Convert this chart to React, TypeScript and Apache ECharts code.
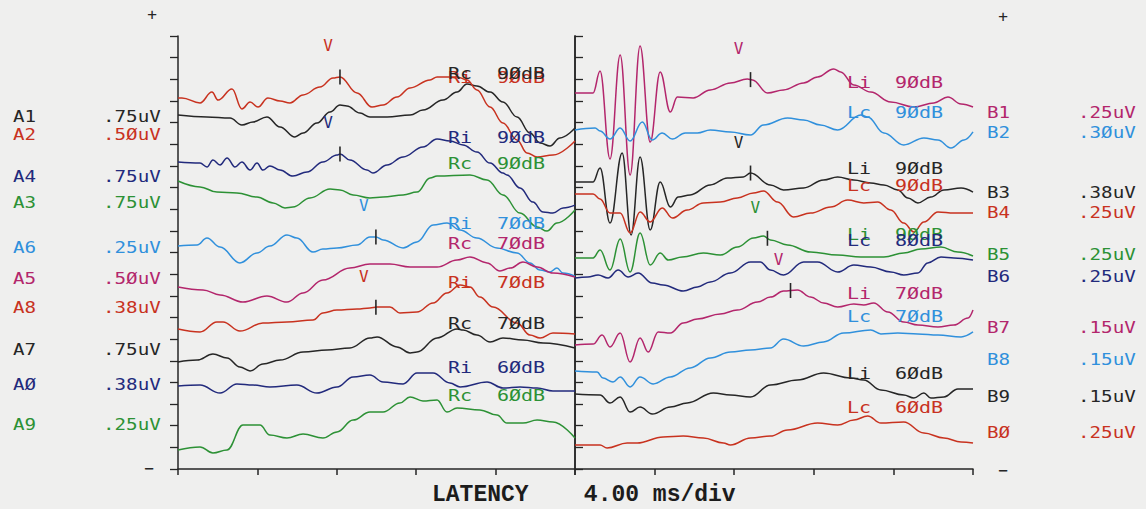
import React, { useEffect, useRef } from "react";
import * as echarts from "echarts";

// Each trace: [latency in ms (0–20 per panel), vertical position in display divisions (0–20)]
const A1 = [[0,16.35],[1.46,16.26],[2.62,16.21],[3.22,15.89],[3.78,16.03],[4.48,16.26],[5.14,15.80],[5.89,15.34],[6.30,15.52],[7.00,15.98],[7.66,16.49],[8.16,16.81],[8.51,16.77],[9.17,16.44],[9.67,16.26],[10.53,16.26],[11.69,16.35],[12.34,16.58],[13.35,17.04],[14.06,17.41],[14.56,17.78],[15.06,17.69],[15.72,17.41],[16.37,16.95],[17.08,16.26],[17.73,15.52],[18.24,15.06],[18.74,14.92],[19.24,15.29],[20,15.75]];
const A2 = [[0,17.14],[0.2,17.14],[1.11,16.91],[1.71,17.41],[2.02,17.04],[2.72,17.55],[3.22,16.63],[3.63,16.95],[4.03,16.72],[4.53,17.14],[5.14,17.00],[5.64,16.91],[6.30,17.28],[7.15,17.64],[7.81,18.06],[8.16,18.11],[9.02,17.37],[9.77,16.72],[10.33,16.81],[11.03,17.18],[11.69,17.60],[12.70,17.97],[13.05,18.11],[14.06,18.11],[14.56,17.97],[15.06,17.51],[15.72,16.72],[16.37,15.98],[17.08,15.20],[17.58,14.60],[18.09,14.41],[18.89,14.50],[20,15.15]];
const A4 = [[0,14.18],[1.11,14.13],[1.46,13.95],[1.76,14.27],[2.12,14.04],[2.47,14.37],[2.87,13.95],[3.22,14.18],[3.63,13.81],[3.98,14.13],[4.28,13.81],[4.63,14.00],[5.14,13.81],[5.79,13.53],[6.50,13.72],[7.30,14.18],[8.01,14.50],[8.16,14.55],[8.66,14.27],[9.52,13.81],[9.82,13.67],[10.53,14.04],[11.34,14.41],[12.34,14.87],[13.05,15.24],[13.70,15.15],[14.36,14.97],[15.06,14.64],[15.72,14.13],[16.37,13.67],[16.57,13.58],[17.23,12.98],[17.88,12.33],[18.39,11.87],[18.89,11.82],[19.40,12.06],[20,12.19]];
const A3 = [[0,13.30],[1.11,13.03],[1.96,12.79],[2.97,12.75],[3.98,12.56],[4.79,12.29],[5.39,12.06],[5.79,12.10],[6.65,12.52],[7.66,12.93],[8.16,12.89],[8.82,12.66],[9.67,12.52],[10.33,12.56],[11.34,12.66],[12.04,12.79],[12.70,13.44],[13.05,13.53],[14.71,13.58],[15.57,13.35],[16.37,12.66],[17.23,11.82],[18.09,11.18],[18.59,10.99],[19.09,11.36],[20,11.96]];
const A6 = [[0,10.30],[0.96,10.35],[1.46,10.67],[2.12,10.25],[3.12,9.52],[3.98,9.98],[4.63,10.30],[5.49,10.81],[5.99,10.67],[6.80,10.02],[7.30,10.16],[8.01,10.21],[9.02,10.35],[9.67,10.72],[9.97,10.72],[10.33,10.58],[11.34,10.21],[12.04,10.49],[12.85,11.27],[13.55,11.36],[14.21,11.04],[15.06,10.67],[16.07,10.21],[17.08,9.98],[17.73,9.52],[18.24,9.19],[18.74,9.10],[19.09,9.28],[19.40,9.05],[20,8.91]];
const A5 = [[0,8.41],[1.26,8.27],[2.12,8.04],[3.27,7.71],[4.48,7.99],[5.49,7.71],[6.30,8.13],[7.30,8.73],[8.66,9.28],[9.67,9.47],[10.68,9.47],[11.69,9.33],[13.05,9.33],[14.06,9.65],[14.71,9.79],[15.57,9.52],[16.22,9.15],[16.73,9.28],[17.38,9.56],[18.09,9.33],[18.89,9.05],[20,8.87]];
const A8 = [[0,6.47],[1.11,6.33],[1.96,6.79],[2.27,6.79],[3.12,6.37],[4.28,6.74],[5.49,6.79],[6.80,6.88],[7.30,7.21],[8.01,7.34],[9.02,7.39],[9.67,7.44],[10.03,7.48],[10.68,7.48],[11.18,7.21],[12.04,7.25],[12.85,7.67],[13.55,8.13],[14.21,8.50],[14.71,8.41],[15.21,7.94],[15.87,7.48],[17.08,6.74],[17.73,6.19],[18.24,6.05],[18.89,6.28],[20,6.24]];
const A7 = [[0,4.94],[0.96,5.03],[1.76,5.31],[2.47,5.13],[3.12,4.71],[3.63,4.53],[4.28,4.85],[5.14,5.03],[6.30,5.40],[7.51,5.50],[8.66,5.59],[9.67,6.05],[10.03,6.10],[11.03,5.64],[11.69,5.36],[12.04,5.40],[13.05,6.05],[14.06,6.47],[14.36,6.42],[15.06,6.19],[15.72,5.87],[16.37,6.05],[17.38,5.96],[18.39,5.82],[20,5.59]];
const A0 = [[0,3.83],[1.11,3.88],[2.12,3.51],[2.97,3.93],[3.78,3.88],[4.63,3.79],[5.99,3.88],[7.00,3.51],[8.01,3.79],[8.82,4.25],[9.67,4.34],[10.33,4.02],[11.34,3.93],[12.04,4.43],[12.85,4.43],[13.70,3.97],[14.21,3.79],[15.57,4.02],[16.37,3.74],[17.23,3.79],[18.09,3.74],[18.89,3.60],[20,3.60]];
const A9 = [[0,0.88],[1.11,1.02],[1.76,0.74],[2.47,0.88],[3.27,2.03],[4.13,2.03],[4.63,1.57],[5.49,1.43],[6.30,1.62],[7.30,1.43],[8.01,1.71],[8.82,2.26],[9.67,2.63],[10.33,2.63],[11.18,3.05],[11.69,3.33],[12.34,3.14],[13.05,3.19],[13.55,2.63],[14.06,2.82],[15.21,2.73],[16.07,2.49],[16.57,2.12],[17.38,2.12],[18.09,2.26],[18.89,2.17],[20,1.43]];

const B1 = [[0,17.37],[0.91,17.37],[1.26,18.38],[1.76,14.32],[2.27,19.12],[2.77,13.58],[3.27,19.54],[3.78,15.10],[4.28,18.34],[4.79,16.49],[5.14,17.18],[5.94,17.14],[6.80,17.51],[7.81,17.83],[8.66,18.01],[8.92,17.97],[9.67,17.37],[10.48,17.51],[11.49,17.83],[12.19,18.11],[13.00,18.48],[13.35,18.34],[14.01,17.74],[14.86,17.41],[15.87,16.95],[17.03,16.72],[18.04,16.91],[18.74,17.18],[19.40,16.86],[20,16.72]];
const B2 = [[0,15.66],[1.01,15.75],[1.26,15.61],[1.76,15.24],[2.27,15.75],[2.77,15.15],[3.38,16.03],[3.88,15.20],[4.38,15.52],[4.89,15.24],[5.54,15.52],[6.15,15.52],[6.80,15.66],[7.81,15.57],[8.82,15.43],[9.47,15.89],[10.68,16.21],[11.49,16.12],[12.34,15.89],[13.20,15.66],[14.36,16.35],[14.71,16.26],[15.52,15.52],[16.52,14.97],[17.53,15.29],[18.24,15.20],[18.89,14.83],[19.55,15.20],[20,15.57]];
const B3 = [[0,13.26],[0.91,13.26],[1.26,13.90],[1.76,11.36],[2.37,14.60],[2.82,10.81],[3.27,14.41],[3.78,11.04],[4.28,13.26],[4.79,12.10],[5.19,12.56],[5.79,12.66],[6.80,13.12],[7.66,13.44],[8.46,13.49],[8.82,13.67],[9.82,13.12],[10.48,12.89],[11.49,12.98],[12.49,13.35],[13.20,13.49],[14.01,13.35],[14.86,13.21],[15.52,13.12],[16.22,12.89],[16.73,12.52],[17.23,12.29],[17.88,12.56],[18.54,12.89],[19.40,12.98],[20,12.79]];
const B4 = [[0,12.70],[0.91,12.70],[1.26,12.47],[1.76,11.82],[2.27,11.82],[2.77,10.90],[3.27,11.87],[3.78,11.41],[4.38,12.06],[4.89,11.59],[5.64,11.96],[6.45,12.29],[7.30,12.33],[8.16,12.52],[8.97,12.75],[9.47,12.84],[10.18,12.33],[10.98,11.64],[11.84,11.82],[12.85,12.10],[13.70,12.42],[14.51,12.29],[15.21,12.33],[15.87,11.96],[16.52,11.36],[17.03,10.95],[17.53,11.41],[18.24,11.87],[19.04,11.82],[20,11.82]];
const B5 = [[0,9.75],[0.91,9.75],[1.26,10.12],[1.76,9.19],[2.27,10.62],[2.77,9.10],[3.27,10.90],[3.78,9.42],[4.28,9.98],[4.69,9.65],[5.39,9.79],[6.45,9.98],[7.30,9.88],[8.16,10.25],[8.97,10.67],[9.47,10.76],[9.82,10.58],[10.68,10.35],[11.84,10.02],[13.20,9.88],[14.36,9.79],[15.52,9.79],[16.52,9.98],[17.38,10.16],[18.39,10.25],[19.24,10.02],[20,9.84]];
const B6 = [[0,8.82],[0.65,8.87],[1.16,8.96],[1.66,8.82],[2.17,9.19],[2.67,8.87],[3.17,9.05],[3.88,8.59],[4.43,8.50],[5.44,8.22],[6.15,8.41],[6.80,8.64],[7.81,9.05],[8.82,9.56],[9.32,9.56],[9.82,9.19],[10.48,8.96],[11.49,9.56],[12.19,9.56],[13.20,9.10],[14.01,9.42],[14.86,9.33],[15.87,9.10],[16.52,8.96],[17.23,9.05],[17.73,9.52],[18.39,9.79],[19.04,9.75],[20,9.65]];
const B7 = [[0,5.73],[0.91,5.77],[1.36,6.19],[1.76,5.64],[2.27,6.28],[2.77,4.94],[3.27,6.05],[3.68,5.40],[4.18,6.33],[4.79,6.28],[5.44,6.74],[6.15,6.93],[7.30,7.16],[8.16,7.34],[9.17,7.71],[9.82,7.94],[10.48,8.22],[11.18,8.27],[11.84,7.94],[12.49,7.67],[13.20,7.48],[14.01,7.62],[14.51,7.58],[15.01,7.67],[15.72,7.25],[16.52,6.79],[17.23,6.65],[18.24,6.56],[19.04,6.65],[19.75,6.97],[20,7.34]];
const B8 = [[0,4.53],[1.11,4.48],[1.41,4.20],[1.91,4.02],[2.27,4.25],[2.77,3.79],[3.27,4.25],[3.93,3.93],[4.79,4.25],[5.79,4.67],[6.80,5.13],[7.81,5.40],[8.82,5.50],[9.82,5.59],[10.48,6.00],[11.49,5.68],[12.49,5.87],[13.50,6.28],[14.86,6.42],[15.37,6.24],[16.22,6.28],[17.23,6.24],[18.24,6.19],[19.40,6.10],[20,6.33]];
const B9 = [[0,3.46],[1.26,3.42],[1.76,3.05],[2.27,3.33],[2.77,2.63],[3.27,2.86],[3.88,2.54],[4.79,2.86],[5.64,3.05],[6.95,3.51],[7.81,3.42],[8.82,3.33],[9.82,3.88],[11.18,4.11],[12.49,4.43],[13.85,4.20],[14.51,4.11],[15.37,3.65],[16.52,3.42],[17.03,3.28],[17.53,3.51],[17.88,3.28],[18.54,3.33],[19.24,3.70],[20,3.70]];
const B0 = [[0,1.11],[1.26,1.11],[1.61,0.97],[2.62,1.20],[3.12,1.20],[4.43,1.48],[5.44,1.52],[6.45,1.43],[7.46,1.20],[7.81,1.11],[8.82,1.43],[9.82,1.52],[10.68,1.80],[12.19,2.12],[13.20,2.03],[14.01,2.26],[14.71,2.45],[15.37,2.12],[16.52,2.17],[17.53,1.66],[18.54,1.43],[19.40,1.25],[20,1.20]];

// Channel names, gain, recording side/level, wave V latency (ms)
const leftNames = ["A1", "A2", "A4", "A3", "A6", "A5", "A8", "A7", "AØ", "A9"];
const leftGains = [".75uV", ".5ØuV", ".75uV", ".75uV", ".25uV", ".5ØuV", ".38uV", ".75uV", ".38uV", ".25uV"];
const leftTags = ["Rc", "Ri", "Ri", "Rc", "Ri", "Rc", "Ri", "Rc", "Ri", "Rc"];
const leftLevels = ["9ØdB", "9ØdB", "9ØdB", "9ØdB", "7ØdB", "7ØdB", "7ØdB", "7ØdB", "6ØdB", "6ØdB"];
const leftWaveV = [null, 8.16, 8.16, null, 9.97, null, 9.97, null, null, null];

const rightNames = ["B1", "B2", "B3", "B4", "B5", "B6", "B7", "B8", "B9", "BØ"];
const rightGains = [".25uV", ".3ØuV", ".38uV", ".25uV", ".25uV", ".25uV", ".15uV", ".15uV", ".15uV", ".25uV"];
const rightTags = ["Li", "Lc", "Li", "Lc", "Li", "Lc", "Li", "Lc", "Li", "Lc"];
const rightLevels = ["9ØdB", "9ØdB", "9ØdB", "9ØdB", "9ØdB", "8ØdB", "7ØdB", "7ØdB", "6ØdB", "6ØdB"];
const rightWaveV = [8.82, null, 8.82, null, 9.67, null, 10.83, null, null, null];

const RED = "#c8321f";
const INK = "#262626";
const NAVY = "#222a7c";
const GREEN = "#2c9135";
const BLUE = "#3090dc";
const MAGENTA = "#b3266c";
const BG = "#efefee";
const MONO = '"DejaVu Sans Mono", monospace';

const leftData = [A1, A2, A4, A3, A6, A5, A8, A7, A0, A9];
const leftColors = [INK, RED, NAVY, GREEN, BLUE, MAGENTA, RED, INK, NAVY, GREEN];
const rightData = [B1, B2, B3, B4, B5, B6, B7, B8, B9, B0];
const rightColors = [MAGENTA, BLUE, INK, RED, GREEN, NAVY, MAGENTA, BLUE, INK, RED];

// Screen rows of the channel captions and of the in-panel trace captions
const leftRowY = [117, 135, 177, 203, 248, 279, 308, 350, 385, 425];
const rightRowY = [113, 133, 193, 213, 255, 277, 328, 360, 397, 433];
const leftTagY = [73, 77, 137, 163, 223, 243, 282, 323, 367, 395];
const rightTagY = [82, 112, 168, 185, 234, 240, 293, 316, 373, 407];

function valueAt(data: number[][], x: number): number {
  for (let i = 1; i < data.length; i++) {
    const [x0, y0] = data[i - 1];
    const [x1, y1] = data[i];
    if (x >= x0 && x <= x1) return y0 + ((y1 - y0) * (x - x0)) / (x1 - x0);
  }
  return data[data.length - 1][1];
}

function label(x: number, y: number, text: string, color: string, sx = 1.2, size = 16, align = "left") {
  return {
    type: "text",
    x,
    y,
    scaleX: sx,
    silent: true,
    z: 10,
    style: {
      text,
      fill: color,
      font: `${size}px ${MONO}`,
      textAlign: align,
      textVerticalAlign: "middle",
      align,
      verticalAlign: "middle",
    },
  };
}

function traceSeries(data: number[][], color: string, panel: number, waveV: number | null) {
  const s: any = {
    type: "line",
    xAxisIndex: panel,
    yAxisIndex: panel === 0 ? 0 : 2,
    data,
    showSymbol: false,
    smooth: 0.4,
    smoothMonotone: "x",
    silent: true,
    lineStyle: { color, width: 1.5 },
    itemStyle: { color },
  };
  if (waveV != null) {
    s.markPoint = {
      silent: true,
      symbol: "rect",
      symbolSize: [1.6, 15],
      itemStyle: { color: INK },
      label: {
        show: true,
        formatter: "V",
        color,
        fontFamily: MONO,
        fontSize: 16,
        offset: [-12, -31],
      },
      data: [{ coord: [waveV, valueAt(data, waveV)] }],
    };
  }
  return s;
}

export default function App() {
  const ref = useRef<HTMLDivElement>(null);

  useEffect(() => {
    if (!ref.current) return;
    const chart = echarts.init(ref.current, undefined, { renderer: "svg" });
    const axisLine = { show: true, lineStyle: { color: INK, width: 1.5 } };

    const xAxis = [0, 1].map((g) => ({
      type: "value",
      gridIndex: g,
      min: 0,
      max: 20,
      interval: 4,
      axisLine: axisLine,
      axisTick: { show: true, inside: false, length: 6, lineStyle: { color: INK, width: 1.5 } },
      axisLabel: { show: false },
      splitLine: { show: false },
    }));

    const yBase = {
      type: "value",
      min: 0,
      max: 20,
      interval: 1,
      axisLabel: { show: false },
      splitLine: { show: false },
      axisLine: axisLine,
    };
    const yAxis = [
      { ...yBase, gridIndex: 0, position: "left", axisTick: { show: true, inside: false, length: 8, lineStyle: { color: INK, width: 1.3 } } },
      { ...yBase, gridIndex: 0, position: "right", axisTick: { show: false } },
      { ...yBase, gridIndex: 1, position: "right", axisTick: { show: true, inside: false, length: 8, lineStyle: { color: INK, width: 1.3 } } },
    ];

    const series = [
      ...leftData.map((d, i) => traceSeries(d, leftColors[i], 0, leftWaveV[i])),
      ...rightData.map((d, i) => traceSeries(d, rightColors[i], 1, rightWaveV[i])),
    ];

    const graphic: any[] = [];
    leftNames.forEach((n, i) => {
      graphic.push(label(13, leftRowY[i], n, leftColors[i]));
      graphic.push(label(103, leftRowY[i], leftGains[i], leftColors[i]));
    });
    rightNames.forEach((n, i) => {
      graphic.push(label(987, rightRowY[i], n, rightColors[i]));
      graphic.push(label(1078, rightRowY[i], rightGains[i], rightColors[i]));
    });
    // draw the first caption of each overlapping pair underneath
    const leftOrder = [1, 0, 2, 3, 4, 5, 6, 7, 8, 9];
    leftOrder.forEach((i) => {
      graphic.push(label(448, leftTagY[i], leftTags[i], leftColors[i], 1.25));
      graphic.push(label(497, leftTagY[i], leftLevels[i], leftColors[i], 1.25));
    });
    rightTags.forEach((t, i) => {
      graphic.push(label(847, rightTagY[i], t, rightColors[i], 1.25));
      graphic.push(label(895, rightTagY[i], rightLevels[i], rightColors[i], 1.25));
    });
    graphic.push(label(152, 14, "+", INK, 1, 16, "center"));
    graphic.push(label(1003, 16, "+", INK, 1, 16, "center"));
    graphic.push(label(149, 468, "−", INK, 1, 16, "center"));
    graphic.push(label(1003, 470, "−", INK, 1, 16, "center"));
    graphic.push({
      type: "text",
      x: 432,
      y: 495,
      silent: true,
      style: {
        text: "LATENCY    4.00 ms/div",
        fill: "#1c1c1c",
        font: 'bold 23px "Liberation Mono", monospace',
        textVerticalAlign: "middle",
        verticalAlign: "middle",
      },
    });

    chart.setOption({
      animation: false,
      backgroundColor: BG,
      grid: [
        { left: 178, top: 36, width: 397, height: 433 },
        { left: 575, top: 36, width: 398, height: 433 },
      ],
      xAxis,
      yAxis,
      series,
      graphic,
    });
    return () => chart.dispose();
  }, []);

  return (
    <div
      ref={ref}
      style={{ position: "fixed", left: 0, top: 0, width: 1146, height: 509, background: BG }}
    />
  );
}
